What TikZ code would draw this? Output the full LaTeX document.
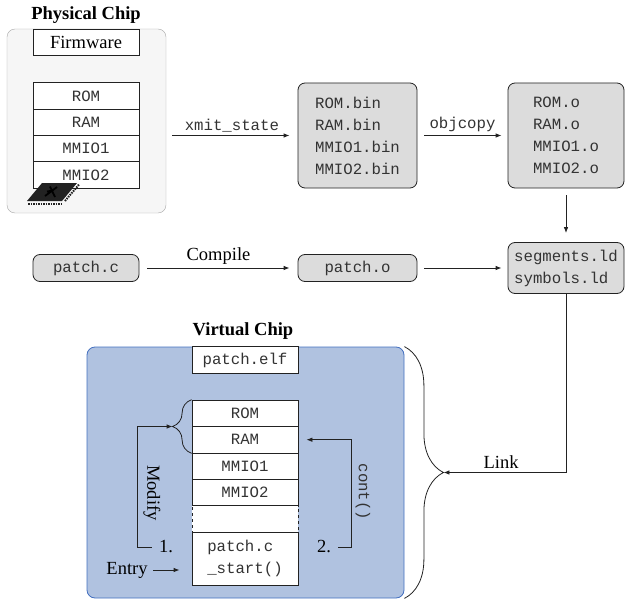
\documentclass[tikz,border=0pt]{standalone}
\usepackage{fontspec}
\setmainfont{Liberation Serif}
\setmonofont{Liberation Mono}
\usepackage{tikz}
\usetikzlibrary{calc,arrows.meta,decorations.pathreplacing}
\definecolor{ink}{HTML}{222222}
\definecolor{txt}{HTML}{333333}
\definecolor{box}{HTML}{DCDCDC}
\definecolor{chip}{HTML}{F6F6F6}
\definecolor{chipline}{HTML}{A8A8A8}
\definecolor{virt}{HTML}{B0C2E0}
\definecolor{virtline}{HTML}{4470C0}
\definecolor{pin}{HTML}{1A4FE8}
\tikzset{
  cell/.style={draw=ink, fill=white, text=txt, line width=0.8pt, minimum width=106pt, minimum height=26.4pt, inner sep=0pt, font=\fontsize{15.7}{22}\ttfamily},
  file/.style={draw=ink, fill=box, text=txt, line width=0.8pt, rounded corners=7pt, inner sep=0pt, align=left, font=\fontsize{15.7}{22}\ttfamily},
  mono/.style={text=txt, font=\fontsize{15.7}{22}\ttfamily},
  lab/.style={text=black, font=\fontsize{18.5}{22}\selectfont},
  labb/.style={text=black, font=\fontsize{18.5}{22}\selectfont\bfseries},
  arr/.style={draw=ink, line width=0.8pt, -{Latex[length=6pt,width=4.5pt]}},
  brc/.style={draw=ink, line width=0.8pt, decorate, decoration={brace, amplitude=#1}},
}
\begin{document}
\begin{tikzpicture}[x=1pt,y=-1pt]
  \useasboundingbox (0,0) rectangle (627,602);
  % physical chip
  \node[labb] at (86,15) {Physical Chip};
  \node[draw=chipline, fill=chip, rounded corners=8pt, minimum width=159pt, minimum height=184pt, inner sep=0pt] (phys) at (86.5,121) {};
  \node[cell, text=black, font=\fontsize{18.5}{22}\selectfont] (fw) at (86,42.5) {Firmware};
  \foreach \N/\T [count=\i] in {pr/ROM,pa/RAM,p1/MMIO1,p2/MMIO2}
    \node[cell] (\N) at (86,{69.8+26.3*\i}) {\T};
  \fill[ink] (27,201) -- (62,201) -- (77,183) -- (42,183) -- cycle;
  \draw[ink, line width=2pt, dash pattern=on 1.5pt off 1pt] (28,203.5) -- (62,203.5);
  \draw[ink, line width=2pt, dash pattern=on 1.5pt off 1pt] (65,201) -- (79,184.5);
  \draw[pin, line width=1.8pt] (45,196) -- (57,187) (50,186.5) -- (55,197) (47,191.5) -- (53,190.5);
  % files
  \node[file, minimum width=119pt, minimum height=105pt] (bins) at (357.5,135.5) {ROM.bin\\RAM.bin\\MMIO1.bin\\MMIO2.bin};
  \node[file, minimum width=116pt, minimum height=105pt] (objs) at (566,135.5) {ROM.o\\RAM.o\\MMIO1.o\\MMIO2.o};
  \node[file, minimum width=116pt, minimum height=51pt] (segs) at (566,268) {segments.ld\\symbols.ld};
  \node[file, minimum width=106pt, minimum height=27pt] (pc) at (86,268) {patch.c};
  \node[file, minimum width=119pt, minimum height=27pt] (po) at (357.5,268) {patch.o};
  \draw[arr, shorten <=6pt, shorten >=8pt] (phys.east |- bins) -- (bins) node[midway, above, mono] {xmit\_state};
  \draw[arr, shorten <=7pt, shorten >=6pt] (bins) -- (objs) node[midway, above, mono] {objcopy};
  \draw[arr, shorten <=7pt, shorten >=9pt] (objs) -- (segs);
  \draw[arr, shorten <=8pt, shorten >=8pt] (pc) -- (po) node[midway, above, lab] {Compile};
  \draw[arr, shorten <=7pt, shorten >=6pt] (po) -- (segs);
  % virtual chip
  \node[labb] at (243,331) {Virtual Chip};
  \node[draw=virtline, fill=virt, rounded corners=8pt, line width=0.8pt, minimum width=317pt, minimum height=251pt, inner sep=0pt] (virt) at (245.5,472.5) {};
  \node[cell] (elf) at (245,360) {patch.elf};
  \foreach \N/\T [count=\i] in {vr/ROM,va/RAM,v1/MMIO1,v2/MMIO2}
    \node[cell] (\N) at (245,{386.9+26.4*\i}) {\T};
  \node[cell, minimum height=53pt, align=left] (vc) at (245,558.5) {patch.c\\\_start()};
  \node[cell, dashed] (vx) at (245,519) {};
  \draw[brc=19pt] (va.south west) -- (vr.north west);
  \coordinate (mtip) at ($(vr.north west)!.5!(va.south west)+(-19,0)$);
  \draw[brc=39pt] (virt.north east) -- (virt.south east);
  \coordinate (ltip) at ($(virt.east)+(39,0)$);
  \draw[arr] (segs.south) |- (ltip) node[pos=0.765, above, lab] {Link};
  % modify / cont
  \node[lab] (n1) at (166,547) {1.};
  \node[lab] (n2) at (324,547) {2.};
  \node[lab, rotate=-90] (mod) at (152,493) {Modify};
  \node[mono, rotate=-90] (cont) at (363,492) {cont()};
  \draw[arr] ([xshift=-4pt]n1.west) -- ++(-14,0) |- (mtip);
  \draw[arr] ([xshift=4pt]n2.east) -- ++(13,0) |- ([xshift=8pt]va.east);
  \node[lab] (ent) at (127,570) {Entry};
  \draw[arr, shorten >=12pt] ([xshift=2pt]ent.east) -- (vc.west |- ent);
\end{tikzpicture}
\end{document}
